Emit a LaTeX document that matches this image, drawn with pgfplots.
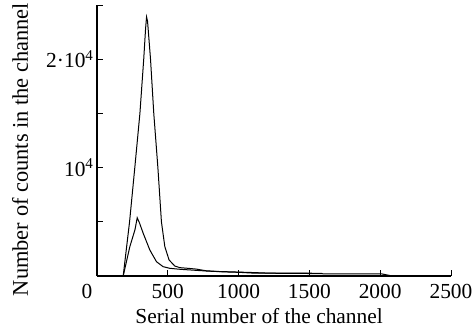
\documentclass[border=0pt]{standalone}
\usepackage{fontspec}
\setmainfont{Liberation Serif}
\usepackage{pgfplots}
\pgfplotsset{compat=1.18}
\begin{document}
\begin{tikzpicture}[font=\fontsize{21.5}{24}\selectfont]
\begin{axis}[
  scale only axis, width=354bp, height=271bp,
  xmin=0, xmax=2500, ymin=0, ymax=25000,
  axis lines*=left,
  axis line style={line width=1.4bp, -},
  tick align=inside, major tick length=6bp,
  tick style={line width=0.8bp, black},
  xtick={500,1000,1500,2000,2500},
  xticklabels={500,1000,1500,2000,2500},
  xticklabel style={yshift=-5bp},
  extra x ticks={0}, extra x tick labels={0},
  extra x tick style={major tick length=0pt, xticklabel style={xshift=-10bp}},
  ytick={10000,20000},
  yticklabels={10\textsuperscript{4},2·10\textsuperscript{4}},
  extra y ticks={5000,15000,25000}, extra y tick labels={},
  /pgf/number format/assume math mode=true,
  xlabel={Serial number of the channel},
  ylabel={\fontsize{22.5}{25}\selectfont Number of counts in the channel},
  xlabel style={at={(axis description cs:0.458,-0.175)}, anchor=base},
  ylabel style={at={(axis description cs:-0.2175,0.467)}, anchor=center},
  clip=false,
]
% large peak
\addplot[black, line width=1bp] coordinates {
(185,0) (230,5000) (267,10000) (303,15000) (330,20000) (343,22800) (350,23900) (357,23500)
(378,20000) (401,15000) (430,10000) (455,5000) (479,2710) (509,1480) (549,925)
(585,770) (650,700) (700,640) (772,480) (850,420) (1000,360) (1100,320) (1200,270) (1400,260) (1590,250)
};
% small peak
\addplot[black, line width=1bp] coordinates {
(185,0) (232,2710) (268,4260) (284,5370) (300,4900) (326,3950) (373,2400) (420,1320)
(467,860) (514,710) (585,620) (655,560) (772,460) (900,380) (1000,340) (1100,270) (1300,250) (1590,220) (1600,185) (2014,185) (2085,0)
};
\end{axis}
\pgfresetboundingbox
\path (-97bp,-56bp) rectangle (377bp,276bp);
\end{tikzpicture}
\end{document}
